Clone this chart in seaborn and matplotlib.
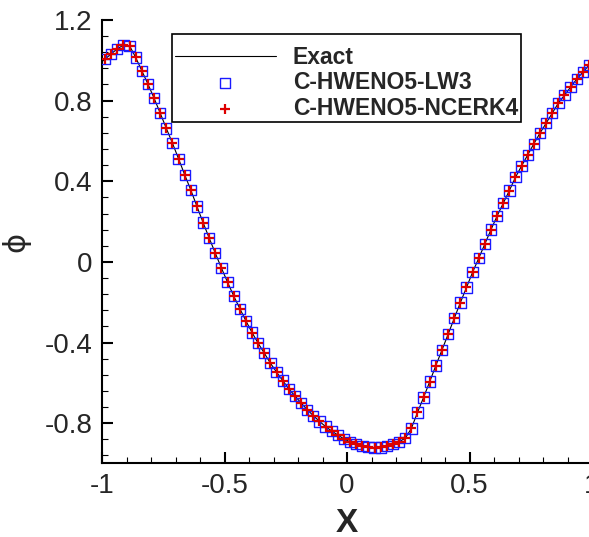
import numpy as np
import pandas as pd
import matplotlib
matplotlib.use("Agg")
import matplotlib.pyplot as plt
import seaborn as sns

# grid (cell centres, 80 cells on [-1, 1])
x_cells = np.linspace(-0.9875, 0.9875, 80)

phi_num = [
    1.006, 1.032, 1.057, 1.075, 1.072, 1.014, 0.948, 0.882, 0.812, 0.738,
    0.662, 0.589, 0.511, 0.432, 0.356, 0.275, 0.195, 0.118, 0.043, -0.031,
    -0.101, -0.169, -0.232, -0.293, -0.351, -0.404, -0.453, -0.503, -0.547, -0.589,
    -0.630, -0.665, -0.700, -0.733, -0.763, -0.791, -0.817, -0.839, -0.859, -0.878,
    -0.893, -0.905, -0.913, -0.918, -0.921, -0.920, -0.915, -0.905, -0.892, -0.875,
    -0.826, -0.747, -0.672, -0.594, -0.514, -0.437, -0.359, -0.280, -0.202, -0.127,
    -0.051, 0.018, 0.089, 0.160, 0.228, 0.291, 0.354, 0.420, 0.476, 0.531,
    0.586, 0.639, 0.688, 0.738, 0.788, 0.827, 0.867, 0.907, 0.941, 0.976,
]
phi_lw3 = list(phi_num)
phi_ncerk4 = list(phi_num)

exact_x = [-1.0] + list(x_cells) + [1.0]
exact_y = [0.993] + list(phi_num) + [0.993]

labels = ["Exact", "C-HWENO5-LW3", "C-HWENO5-NCERK4"]
xticks = [-1, -0.5, 0, 0.5, 1]
xtick_labels = ["-1", "-0.5", "0", "0.5", "1"]
yticks = [-0.8, -0.4, 0, 0.4, 0.8, 1.2]
ytick_labels = ["-0.8", "-0.4", "0", "0.4", "0.8", "1.2"]

sns.set_style("ticks")
plt.rcParams["font.family"] = ["Liberation Sans", "DejaVu Sans"]

fig = plt.figure(figsize=(5.89, 5.37), dpi=100)
ax = fig.add_axes([0.1732, 0.1369, 0.832, 0.8259])

df_exact = pd.DataFrame({"x": exact_x, "phi": exact_y})
df_lw3 = pd.DataFrame({"x": x_cells, "phi": phi_lw3})
df_nc = pd.DataFrame({"x": x_cells, "phi": phi_ncerk4})

sns.lineplot(data=df_exact, x="x", y="phi", ax=ax, color="black", lw=0.8,
             label=labels[0], sort=False)
sns.scatterplot(data=df_lw3, x="x", y="phi", ax=ax, marker="s", s=55,
                facecolor="none", edgecolor="#1a1aff", linewidth=1.0,
                label=labels[1], zorder=3)
sns.scatterplot(data=df_nc, x="x", y="phi", ax=ax, marker="+", s=45,
                color="#dd0000", linewidth=1.6, label=labels[2], zorder=4)

ax.set_xlim(-1, 1)
ax.set_ylim(-1, 1.2)
ax.set_xticks(xticks, xtick_labels)
ax.set_yticks(yticks, ytick_labels)
ax.xaxis.set_minor_locator(matplotlib.ticker.MultipleLocator(0.1))
ax.yaxis.set_minor_locator(matplotlib.ticker.MultipleLocator(0.08))
ax.tick_params(which="major", direction="in", length=8, width=1.5,
               labelsize=20, color="black", pad=7)
ax.tick_params(which="minor", direction="in", length=4.5, width=0.8,
               color="black")
for s in ["top", "right"]:
    ax.spines[s].set_visible(False)
for s in ["left", "bottom"]:
    ax.spines[s].set_linewidth(1.5)
    ax.spines[s].set_color("black")

ax.set_xlabel("X", fontsize=24, fontweight="bold", labelpad=6)
ax.set_ylabel("ϕ", fontsize=22, family=["DejaVu Sans"], labelpad=10)

leg = ax.legend(loc="upper left", bbox_to_anchor=(0.1429, 0.9684),
                frameon=True, fancybox=False, framealpha=1,
                edgecolor="black", borderpad=0.12, handlelength=4.4,
                handletextpad=0.75, labelspacing=0.1, borderaxespad=0,
                title=" ", title_fontsize=5,
                prop={"family": "Liberation Sans", "weight": "bold", "size": 16.5})
leg.get_frame().set_linewidth(1.2)

fig.savefig("out.png", dpi=100)
